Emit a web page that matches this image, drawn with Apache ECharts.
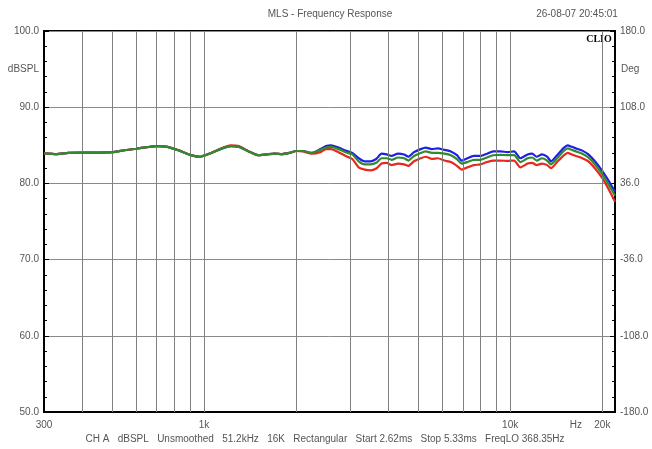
<!DOCTYPE html>
<html>
<head>
<meta charset="utf-8">
<script src="https://cdn.jsdelivr.net/npm/echarts@6/dist/echarts.min.js"></script>
<style>
html,body{margin:0;padding:0;background:#fff;}
#main{width:652px;height:449px;}
</style>
</head>
<body>
<div id="main"></div>
<script>
// ---- Data ----
var freqs = [300,330,360,400,450,500,550,600,650,700,760,830,900,970,1050,1130,1220,1300,1400,1500,1600,1700,1800,1900,2000,2100,2250,2400,2500,2600,2750,2900,3050,3200,3350,3500,3650,3800,3950,4100,4300,4500,4650,4850,5100,5300,5550,5800,6100,6400,6700,6950,7250,7600,8000,8400,8800,9300,9800,10300,10800,11400,11800,12200,12700,13200,13600,14300,15000,15400,15900,16400,17200,18000,19000,20000,21000,22000];
var blueDb = [83.95,83.85,84.0,84.05,84.05,84.1,84.35,84.55,84.75,84.9,84.8,84.3,83.75,83.5,83.95,84.5,84.9,84.8,84.2,83.7,83.8,83.9,83.85,84.0,84.25,84.25,84.0,84.5,84.9,85.0,84.7,84.3,84.0,83.3,82.9,82.9,83.2,83.9,83.8,83.6,83.9,83.8,83.5,84.1,84.5,84.7,84.5,84.6,84.4,84.2,83.7,83.0,83.3,83.6,83.6,83.9,84.2,84.2,84.1,84.2,83.3,83.8,83.9,83.5,83.8,83.5,82.9,83.8,84.7,85.0,84.8,84.6,84.3,83.8,82.8,81.6,80.3,78.9];
var greenDb = [83.95,83.85,84.0,84.05,84.05,84.1,84.35,84.55,84.75,84.9,84.8,84.3,83.75,83.5,83.95,84.5,84.9,84.8,84.2,83.7,83.8,83.9,83.85,84.0,84.25,84.25,84.0,84.4,84.7,84.8,84.5,84.1,83.8,82.9,82.5,82.5,82.7,83.3,83.3,83.1,83.4,83.3,83.0,83.6,84.0,84.2,84.0,84.0,83.9,83.7,83.2,82.6,82.8,83.1,83.1,83.4,83.7,83.75,83.7,83.7,82.8,83.3,83.4,83.0,83.3,83.0,82.5,83.4,84.3,84.6,84.4,84.2,83.9,83.4,82.4,81.2,79.8,78.4];
var redDb = [83.95,83.85,84.0,84.05,84.05,84.1,84.35,84.55,84.75,84.9,84.8,84.3,83.75,83.5,83.95,84.55,85.0,84.9,84.2,83.7,83.8,83.9,83.85,84.0,84.25,84.2,83.9,84.1,84.5,84.5,84.1,83.6,83.2,82.1,81.8,81.7,81.95,82.6,82.7,82.4,82.6,82.5,82.3,82.9,83.3,83.5,83.2,83.3,83.0,82.8,82.3,81.8,82.1,82.4,82.5,82.8,83.0,83.0,82.95,83.0,82.1,82.6,82.7,82.4,82.6,82.4,82.0,82.9,83.7,84.0,83.8,83.6,83.3,82.9,81.9,80.7,79.2,77.6];
var gridFreqs = [400,500,600,700,800,900,1000,2000,3000,4000,5000,6000,7000,8000,9000,10000,20000];
var xLabelValues = [300,1000,10000,16400,20000];
var xLabelTexts = ['300','1k','10k','Hz','20k'];
var titleText = 'MLS - Frequency Response';
var dateText = '26-08-07 20:45:01';
var footerText = 'CH A   dBSPL   Unsmoothed   51.2kHz   16K   Rectangular   Start 2.62ms   Stop 5.33ms   FreqLO 368.35Hz';

function pairs(vals){ return freqs.map(function(f,i){ return [f, vals[i]]; }); }

var FONT = 'Liberation Sans, Arial, sans-serif';
var chart = echarts.init(document.getElementById('main'), null, {renderer:'canvas'});
var option = {
  animation:false,
  backgroundColor:'#fff',
  grid:{left:44,right:37,top:31,bottom:37,show:true,borderColor:'#000',borderWidth:2,backgroundColor:'transparent'},
  xAxis:{type:'log',logBase:10,min:300,max:22000,
    axisLine:{show:true,lineStyle:{color:'#000',width:2}},
    axisTick:{show:false},axisLabel:{show:false},splitLine:{show:false}},
  yAxis:[
    {type:'value',min:50,max:100,interval:10,position:'left',
     axisLine:{show:true,lineStyle:{color:'#000',width:2}},
     axisTick:{show:true,inside:true,length:5,lineStyle:{color:'#000'}},
     minorTick:{show:true,splitNumber:5,length:3,lineStyle:{color:'#000'}},
     splitLine:{show:true,lineStyle:{color:'#8a8a8a',width:1}},
     axisLabel:{formatter:function(v){return v.toFixed(1);},color:'#555',fontSize:10,fontFamily:FONT,margin:5}},
    {type:'value',min:0,max:360,interval:72,position:'right',
     axisLine:{show:true,lineStyle:{color:'#000',width:2}},
     axisTick:{show:true,inside:true,length:5,lineStyle:{color:'#000'}},
     minorTick:{show:true,splitNumber:5,length:3,lineStyle:{color:'#000'}},
     splitLine:{show:false},
     axisLabel:{formatter:function(v){return (v-180).toFixed(1);},color:'#555',fontSize:10,fontFamily:FONT,margin:5}}
  ],
  series:[
    {type:'line',data:[[300,50]],showSymbol:false,symbol:'none',lineStyle:{opacity:0},z:1,silent:true,
     markLine:{silent:true,symbol:['none','none'],animation:false,
       lineStyle:{color:'#808080',width:1,type:'solid'},label:{show:false},
       data:gridFreqs.map(function(f){return {xAxis:f};})}},
    {name:'blue',type:'line',data:pairs(blueDb),showSymbol:false,symbol:'none',smooth:0.2,z:3,
     lineStyle:{color:'#1f1fe6',width:2.2}},
    {name:'red',type:'line',data:pairs(redDb),showSymbol:false,symbol:'none',smooth:0.2,z:4,
     lineStyle:{color:'#e8281e',width:2.2}},
    {name:'green',type:'line',data:pairs(greenDb),showSymbol:false,symbol:'none',smooth:0.2,z:5,
     lineStyle:{color:'#2e8b2e',width:2.2}}
  ]
};
chart.setOption(option);

var gfx = [];
xLabelValues.forEach(function(v,i){
  var px = chart.convertToPixel({xAxisIndex:0}, v);
  gfx.push({type:'text',x:px,y:425,style:{text:xLabelTexts[i],fill:'#555',font:'10px '+FONT,textAlign:'center',textVerticalAlign:'middle'}});
});
var yName = chart.convertToPixel({yAxisIndex:0}, 95);
gfx.push({type:'text',x:39,y:yName,style:{text:'dBSPL',fill:'#555',font:'10px '+FONT,textAlign:'right',textVerticalAlign:'middle'}});
gfx.push({type:'text',x:621,y:yName,style:{text:'Deg',fill:'#555',font:'10px '+FONT,textAlign:'left',textVerticalAlign:'middle'}});
gfx.push({type:'text',x:330,y:14,style:{text:titleText,fill:'#555',font:'10px '+FONT,textAlign:'center',textVerticalAlign:'middle'}});
gfx.push({type:'text',x:577,y:14,style:{text:dateText,fill:'#555',font:'10px '+FONT,textAlign:'center',textVerticalAlign:'middle'}});
gfx.push({type:'text',x:599,y:39,style:{text:'CLIO',fill:'#000',font:'bold 10px Liberation Serif, serif',textAlign:'center',textVerticalAlign:'middle'}});
gfx.push({type:'text',x:325,y:439,style:{text:footerText,fill:'#555',font:'10px '+FONT,textAlign:'center',textVerticalAlign:'middle'}});
chart.setOption({graphic:gfx});
</script>
</body>
</html>
